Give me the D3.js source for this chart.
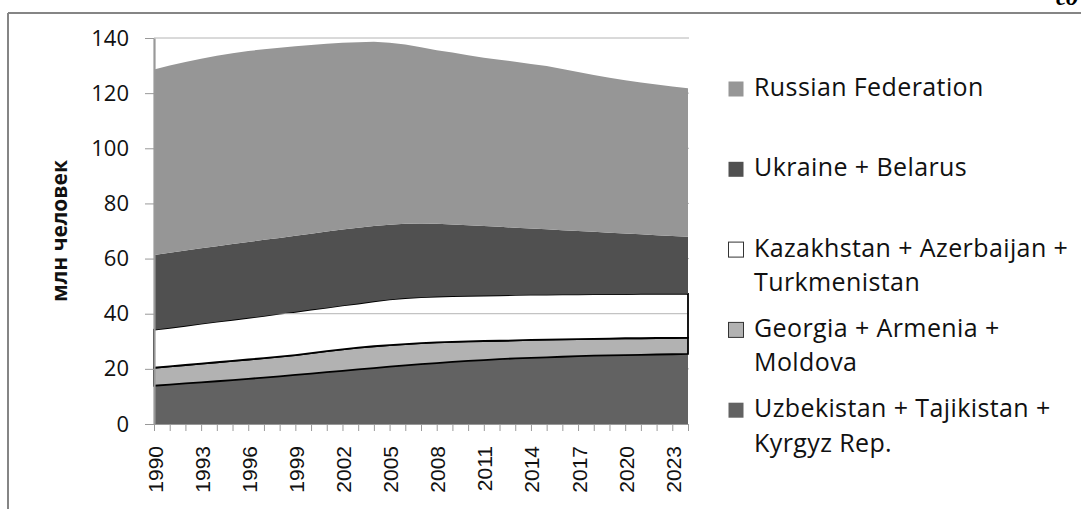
<!DOCTYPE html>
<html>
<head>
<meta charset="utf-8">
<script src="https://cdn.jsdelivr.net/npm/d3@7"></script>
<style>
  body { margin: 0; background: #fff; }
  svg { display: block; }
</style>
</head>
<body>
<svg id="chart" width="1081" height="509"></svg>
<script>
// years on the category axis
const years = [1990, 1991, 1992, 1993, 1994, 1995, 1996, 1997, 1998, 1999,
  2000, 2001, 2002, 2003, 2004, 2005, 2006, 2007, 2008, 2009,
  2010, 2011, 2012, 2013, 2014, 2015, 2016, 2017, 2018, 2019,
  2020, 2021, 2022, 2023, 2024];

// population, mln
const uzbTajKyr = [13.9, 14.3, 14.7, 15.1, 15.5, 15.9, 16.4, 16.8, 17.3, 17.8,
  18.3, 18.8, 19.3, 19.8, 20.3, 20.8, 21.3, 21.7, 22.1, 22.5,
  22.9, 23.2, 23.5, 23.8, 24.0, 24.2, 24.4, 24.6, 24.8, 24.9,
  25.0, 25.1, 25.2, 25.3, 25.4];
const geoArmMol = [6.5, 6.6, 6.7, 6.8, 6.9, 7.0, 7.0, 7.1, 7.1, 7.2,
  7.4, 7.6, 7.8, 7.9, 7.9, 7.8, 7.7, 7.6, 7.5, 7.3,
  7.1, 6.9, 6.7, 6.5, 6.5, 6.4, 6.3, 6.2, 6.1, 6.1,
  6.1, 6.0, 6.0, 5.9, 5.9];
const kazAzeTur = [13.8, 14.0, 14.2, 14.5, 14.7, 14.9, 15.1, 15.3, 15.6, 15.7,
  15.8, 15.8, 15.9, 16.0, 16.3, 16.6, 16.7, 16.7, 16.6, 16.6,
  16.5, 16.5, 16.5, 16.5, 16.4, 16.3, 16.3, 16.2, 16.2, 16.1,
  16.0, 16.1, 16.0, 16.0, 15.9];
const ukrBel = [27.1, 27.2, 27.3, 27.3, 27.4, 27.5, 27.5, 27.6, 27.5, 27.6,
  27.5, 27.6, 27.5, 27.5, 27.3, 27.1, 26.9, 26.7, 26.4, 26.0,
  25.6, 25.2, 24.8, 24.4, 24.0, 23.7, 23.3, 23.0, 22.6, 22.3,
  22.0, 21.6, 21.3, 21.0, 20.7];
const russia = [67.3, 67.9, 68.4, 68.8, 69.1, 69.2, 69.3, 69.1, 69.0, 68.7,
  68.5, 68.1, 67.8, 67.3, 66.8, 66.0, 65.0, 63.9, 63.0, 62.3,
  61.6, 61.0, 60.6, 60.2, 59.7, 59.2, 58.5, 57.7, 56.9, 56.2,
  55.6, 55.1, 54.6, 54.2, 53.9];

const yTicks = [0, 20, 40, 60, 80, 100, 120, 140];
const xLabelYears = [1990, 1993, 1996, 1999, 2002, 2005, 2008, 2011, 2014, 2017, 2020, 2023];

// stack order, bottom to top
const keys = ["uzb", "geo", "kaz", "ukr", "rus"];
const seriesValues = {uzb: uzbTajKyr, geo: geoArmMol, kaz: kazAzeTur, ukr: ukrBel, rus: russia};
const legendLabels = {
  rus: ["Russian Federation"],
  ukr: ["Ukraine + Belarus"],
  kaz: ["Kazakhstan + Azerbaijan +", "Turkmenistan"],
  geo: ["Georgia + Armenia +", "Moldova"],
  uzb: ["Uzbekistan + Tajikistan +", "Kyrgyz Rep."]
};
const fills = {rus: "#969696", ukr: "#505050", kaz: "#ffffff", geo: "#b2b2b2", uzb: "#626262"};
const outlined = {kaz: true, geo: true};

const rows = years.map((year, i) => {
  const r = {year};
  keys.forEach(k => r[k] = seriesValues[k][i]);
  return r;
});

const svg = d3.select("#chart");

const x = d3.scalePoint().domain(years).range([154, 688]);
const y = d3.scaleLinear().domain([0, 140]).range([424, 38]);

// outer frame (top and left lines of the page box)
svg.append("line")
  .attr("x1", 8).attr("x2", 1081).attr("y1", 13).attr("y2", 13)
  .attr("stroke", "#858585").attr("stroke-width", 2);
svg.append("line")
  .attr("x1", 8).attr("x2", 8).attr("y1", 13).attr("y2", 509)
  .attr("stroke", "#858585").attr("stroke-width", 2);

svg.append("text")
  .attr("x", 1056).attr("y", 5)
  .attr("font-family", "Liberation Serif")
  .attr("font-style", "italic").attr("font-weight", "bold")
  .attr("font-size", 24)
  .text("со");

// grid
svg.append("g")
  .selectAll("line")
  .data(yTicks.slice(1))
  .join("line")
    .attr("x1", 154).attr("x2", 689)
    .attr("y1", d => y(d)).attr("y2", d => y(d))
    .attr("stroke", "#b4b4b4").attr("stroke-width", 1);

// stacked areas
const stacked = d3.stack().keys(keys)(rows);

const area = d3.area()
  .x(d => x(d.data.year))
  .y0(d => y(d[0]))
  .y1(d => y(d[1]));

svg.append("g")
  .selectAll("path")
  .data(stacked)
  .join("path")
    .attr("d", area)
    .attr("fill", d => fills[d.key])
    .attr("stroke", d => outlined[d.key] ? "#000" : "none")
    .attr("stroke-width", 1.8)
    .attr("stroke-linejoin", "miter");

// white band lets the 40 gridline through
svg.append("clipPath").attr("id", "kazClip")
  .append("path")
    .attr("d", area(stacked[2]));
svg.append("line")
  .attr("x1", 154).attr("x2", 687)
  .attr("y1", y(40)).attr("y2", y(40))
  .attr("stroke", "#b4b4b4").attr("stroke-width", 1)
  .attr("clip-path", "url(#kazClip)");

// axes
const yAxis = d3.axisLeft(y).tickValues(yTicks).tickSize(9).tickPadding(16).tickSizeOuter(0);
const gy = svg.append("g").attr("transform", "translate(154,0)").call(yAxis);
gy.select(".domain").attr("stroke", "#999").attr("stroke-width", 2.2);
gy.selectAll(".tick line").attr("stroke", "#999");
gy.selectAll(".tick text")
  .attr("font-family", "Open Sans")
  .attr("font-size", 22)
  .attr("fill", "#111");

const xAxis = d3.axisBottom(x).tickSize(7).tickSizeOuter(0)
  .tickFormat(d => xLabelYears.includes(d) ? d : "");
const gx = svg.append("g").attr("transform", "translate(0,424)").call(xAxis);
gx.select(".domain").attr("stroke", "#999");
gx.selectAll(".tick line").attr("stroke", "#999");
gx.selectAll(".tick text")
  .attr("font-family", "Liberation Sans")
  .attr("font-size", 21)
  .attr("fill", "#111")
  .attr("text-anchor", "end")
  .attr("transform", "translate(8,22) rotate(-90)")
  .attr("dy", 0).attr("y", 0).attr("x", 0);

svg.append("text")
  .attr("transform", "translate(67,231) rotate(-90)")
  .attr("text-anchor", "middle")
  .attr("font-family", "Open Sans")
  .attr("font-weight", "bold")
  .attr("font-size", 21)
  .attr("fill", "#111")
  .text("млн человек");

// legend, top to bottom
const legendKeys = keys.slice().reverse();
const legend = svg.append("g")
  .selectAll("g")
  .data(legendKeys)
  .join("g")
    .attr("transform", (d, i) => `translate(728,${96 + i * 80.3})`);

legend.append("rect")
  .attr("x", 0.5).attr("y", -14.5)
  .attr("width", 15).attr("height", 15)
  .attr("fill", d => fills[d])
  .attr("stroke", d => outlined[d] ? "#333" : "none");

legend.append("text")
  .attr("x", 26)
  .attr("font-family", "Open Sans")
  .attr("font-size", 25)
  .attr("letter-spacing", 0.4)
  .attr("fill", "#111")
  .selectAll("tspan")
  .data(d => legendLabels[d])
  .join("tspan")
    .attr("x", 26)
    .attr("y", (d, i) => i * 34.5)
    .text(d => d);
</script>
</body>
</html>
